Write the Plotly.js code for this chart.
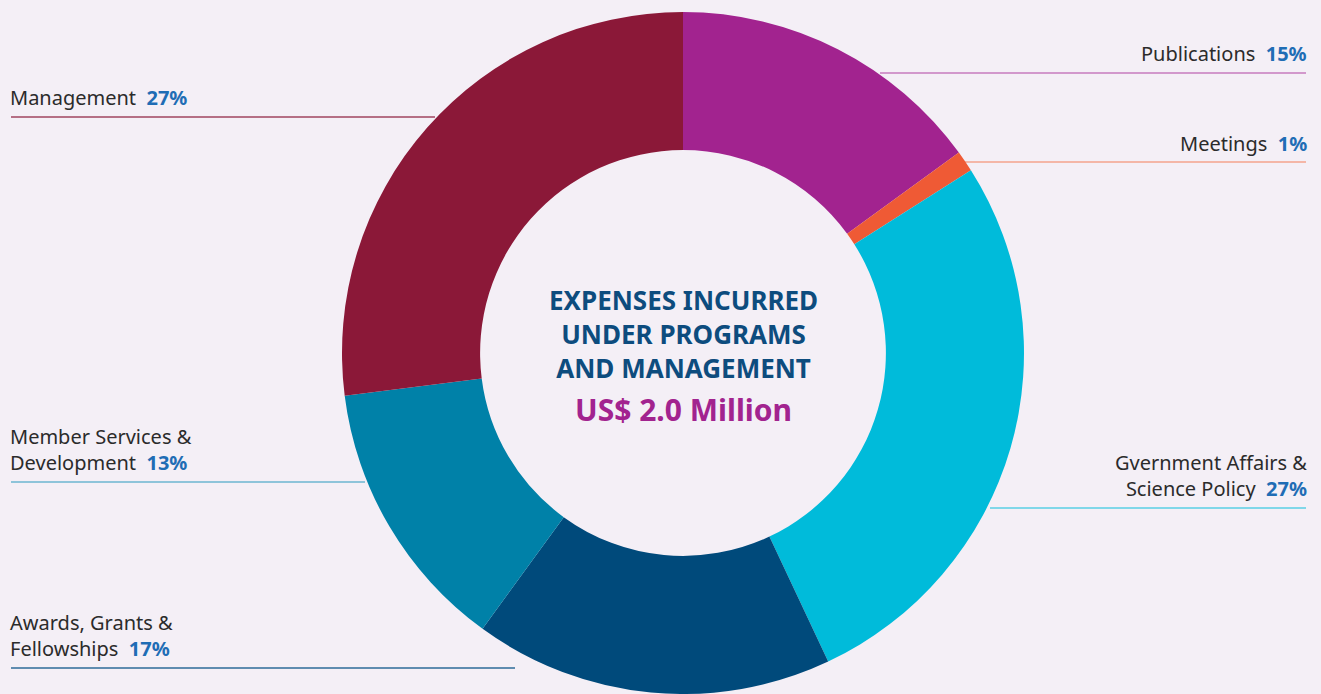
<!DOCTYPE html>
<html>
<head>
<meta charset="utf-8">
<script src="https://cdn.plot.ly/plotly-3.0.1.min.js"></script>
<style>
html,body{margin:0;padding:0;background:#F4EFF6;}
#chart{width:1321px;height:694px;}
</style>
</head>
<body>
<div id="chart"></div>
<script>
const categories = ["Publications", "Meetings", "Gvernment Affairs & Science Policy", "Awards, Grants & Fellowships", "Member Services & Development", "Management"];
const labelLines = [["Publications"], ["Meetings"], ["Gvernment Affairs &", "Science Policy"], ["Awards, Grants &", "Fellowships"], ["Member Services &", "Development"], ["Management"]];
const values = [15, 1, 27, 17, 13, 27];
const pctLabels = ["15%", "1%", "27%", "17%", "13%", "27%"];
const sliceColors = ["#A2238F", "#EF5A35", "#00BBDA", "#004A7B", "#0081A8", "#8B1838"];
const lineColors = ["#C77BBE", "#F4A38C", "#5ACFE4", "#2E6B98", "#6DB6D1", "#A0455F"];
const centerTitle = ["EXPENSES INCURRED", "UNDER PROGRAMS", "AND MANAGEMENT"];
const centerValue = "US$ 2.0 Million";

// label placement (pixel layout)
const place = [
  {side: "right", x: 1309, y: 53, ly: 73, lx0: 880, lx1: 1306},
  {side: "right", x: 1309, y: 143, ly: 162, lx0: 965, lx1: 1306},
  {side: "right", x: 1309, y: 475, ly: 508, lx0: 990, lx1: 1306},
  {side: "left", x: 8, y: 635, ly: 668, lx0: 11, lx1: 515},
  {side: "left", x: 8, y: 449, ly: 482, lx0: 11, lx1: 365},
  {side: "left", x: 8, y: 97, ly: 117, lx0: 11, lx1: 435}
];

const annotations = [];
const shapes = [];
categories.forEach((c, i) => {
  const p = place[i];
  const lines = labelLines[i].slice();
  lines[lines.length - 1] = lines[lines.length - 1] + "  <b><span style='color:#1F6DB5'>" + pctLabels[i] + "</span></b>";
  annotations.push({
    x: p.x, y: p.y, xref: "x", yref: "y", showarrow: false,
    xanchor: p.side === "right" ? "right" : "left", yanchor: "middle",
    align: p.side === "right" ? "right" : "left",
    text: lines.join("<br>"),
    font: {family: "Noto Sans, sans-serif", size: 20, color: "#2B2B2B"}
  });
  shapes.push({type: "line", xref: "x", yref: "y", x0: p.lx0, x1: p.lx1, y0: p.ly, y1: p.ly,
    line: {color: lineColors[i], width: 1.5}, layer: "below"});
});

annotations.push({
  x: 683, y: 334, xref: "x", yref: "y", showarrow: false, xanchor: "center", yanchor: "middle",
  align: "center", text: "<b>" + centerTitle.join("<br>") + "</b>",
  font: {family: "Noto Sans, sans-serif", size: 26, color: "#0D4C7E"}
});
annotations.push({
  x: 683, y: 409, xref: "x", yref: "y", showarrow: false, xanchor: "center", yanchor: "middle",
  text: "<b>" + centerValue + "</b>",
  font: {family: "Noto Sans, sans-serif", size: 30, color: "#A2238F"}
});

const W = 1321, H = 694;
const cx = 683, cy = 353, R = 341;
const trace = {
  type: "pie",
  values: values,
  labels: categories,
  sort: false,
  direction: "clockwise",
  rotation: 0,
  hole: 0.595,
  textinfo: "none",
  hoverinfo: "label+percent",
  marker: {colors: sliceColors, line: {width: 0}},
  domain: {x: [(cx - R) / W, (cx + R) / W], y: [1 - (cy + R) / H, 1 - (cy - R) / H]},
  showlegend: false
};

const layout = {
  width: W, height: H,
  margin: {l: 0, r: 0, t: 0, b: 0},
  paper_bgcolor: "#F4EFF6",
  plot_bgcolor: "rgba(0,0,0,0)",
  xaxis: {range: [0, W], visible: false, fixedrange: true},
  yaxis: {range: [H, 0], visible: false, fixedrange: true},
  annotations: annotations,
  shapes: shapes,
  showlegend: false
};

Plotly.newPlot("chart", [trace], layout, {displayModeBar: false, staticPlot: true});
</script>
</body>
</html>
